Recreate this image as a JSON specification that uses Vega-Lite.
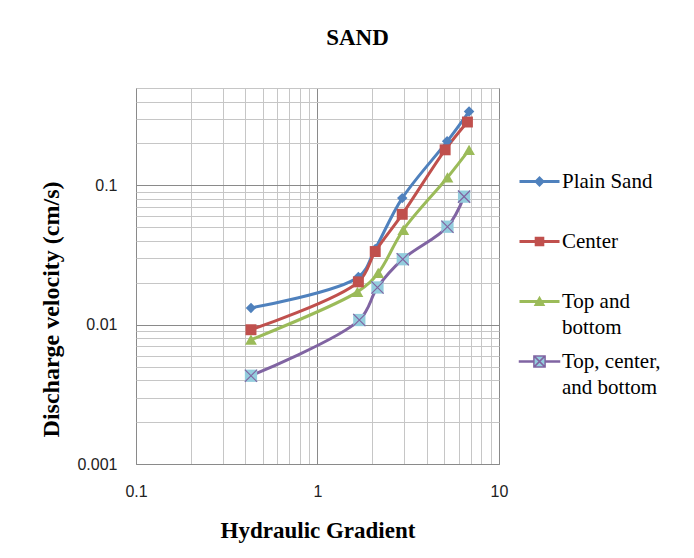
{
  "$schema": "https://vega.github.io/schema/vega-lite/v6.json",
  "width": 363,
  "height": 376,
  "autosize": {"type": "none"},
  "padding": {"left": 136, "top": 88, "right": 195, "bottom": 94},
  "background": "white",
  "title": {"text": "SAND", "font": "Liberation Serif", "fontSize": 23, "fontWeight": "bold", "color": "#000000", "anchor": "middle", "dx": 40, "baseline": "alphabetic", "offset": 12},
  "config": {
    "view": {"stroke": "#868686", "strokeWidth": 1},
    "legend": {"padding": 0, "labelFont": "Liberation Serif", "labelFontSize": 21, "labelColor": "#000000"},
    "style": {"guide-label": {"font": "Liberation Serif"}}
  },
  "data": {
    "values": [
      {"series": "Plain Sand", "gradient": 0.43, "velocity": 0.0132},
      {"series": "Plain Sand", "gradient": 1.68, "velocity": 0.022},
      {"series": "Plain Sand", "gradient": 2.08, "velocity": 0.035},
      {"series": "Plain Sand", "gradient": 2.93, "velocity": 0.081},
      {"series": "Plain Sand", "gradient": 5.18, "velocity": 0.207},
      {"series": "Plain Sand", "gradient": 6.84, "velocity": 0.339},
      {"series": "Center", "gradient": 0.43, "velocity": 0.0092},
      {"series": "Center", "gradient": 1.68, "velocity": 0.0203},
      {"series": "Center", "gradient": 2.08, "velocity": 0.0335},
      {"series": "Center", "gradient": 2.93, "velocity": 0.062},
      {"series": "Center", "gradient": 5.05, "velocity": 0.18},
      {"series": "Center", "gradient": 6.7, "velocity": 0.285},
      {"series": "Top and bottom", "gradient": 0.43, "velocity": 0.0078},
      {"series": "Top and bottom", "gradient": 1.66, "velocity": 0.0172},
      {"series": "Top and bottom", "gradient": 2.16, "velocity": 0.0235},
      {"series": "Top and bottom", "gradient": 2.97, "velocity": 0.048},
      {"series": "Top and bottom", "gradient": 5.2, "velocity": 0.114},
      {"series": "Top and bottom", "gradient": 6.84, "velocity": 0.18},
      {"series": "Top, center, and bottom", "gradient": 0.43, "velocity": 0.0043},
      {"series": "Top, center, and bottom", "gradient": 1.7, "velocity": 0.0108},
      {"series": "Top, center, and bottom", "gradient": 2.14, "velocity": 0.0185},
      {"series": "Top, center, and bottom", "gradient": 2.95, "velocity": 0.0295},
      {"series": "Top, center, and bottom", "gradient": 5.2, "velocity": 0.0505},
      {"series": "Top, center, and bottom", "gradient": 6.42, "velocity": 0.083}
    ]
  },
  "encoding": {
    "x": {
      "field": "gradient", "type": "quantitative",
      "scale": {"type": "log", "domain": [0.1, 10], "nice": false},
      "axis": {
        "title": "Hydraulic  Gradient",
        "values": [0.1, 0.2, 0.3, 0.4, 0.5, 0.6, 0.7, 0.8, 0.9, 1, 2, 3, 4, 5, 6, 7, 8, 9, 10],
        "format": "~g",
        "labelExpr": "(datum.value == 0.1 || datum.value == 1 || datum.value == 10) ? datum.label : ''",
        "grid": true,
        "gridColor": {"condition": {"test": "datum.value == 0.1 || datum.value == 1 || datum.value == 10", "value": "#8a8a8a"}, "value": "#c6c6c6"},
        "gridWidth": 1,
        "ticks": false,
        "domain": false,
        "labelFont": "Liberation Sans", "labelFontSize": 16, "labelColor": "#222222",
        "labelPadding": 19, "labelOverlap": false, "labelFlush": false,
        "titleFont": "Liberation Serif", "titleFontSize": 23, "titleFontWeight": "bold", "titleColor": "#000000",
        "titlePadding": 20
      }
    },
    "y": {
      "field": "velocity", "type": "quantitative",
      "scale": {"type": "log", "domain": [0.001, 0.5], "nice": false},
      "axis": {
        "title": "Discharge velocity (cm/s)",
        "values": [0.001, 0.002, 0.003, 0.004, 0.005, 0.006, 0.007, 0.008, 0.009, 0.01, 0.02, 0.03, 0.04, 0.05, 0.06, 0.07, 0.08, 0.09, 0.1, 0.2, 0.3, 0.4, 0.5],
        "format": "~g",
        "labelExpr": "(datum.value == 0.001 || datum.value == 0.01 || datum.value == 0.1) ? datum.label : ''",
        "grid": true,
        "gridColor": {"condition": {"test": "datum.value == 0.001 || datum.value == 0.01 || datum.value == 0.1", "value": "#8a8a8a"}, "value": "#c6c6c6"},
        "gridWidth": 1,
        "ticks": false,
        "domain": false,
        "labelFont": "Liberation Sans", "labelFontSize": 16, "labelColor": "#222222",
        "labelPadding": 19, "labelOverlap": false, "labelFlush": false,
        "titleFont": "Liberation Serif", "titleFontSize": 24, "titleFontWeight": "bold", "titleColor": "#000000",
        "titleX": -78, "titleY": 221, "titleBaseline": "alphabetic", "titleAngle": -90
      }
    }
  },
  "layer": [
    {
      "mark": {"type": "line", "strokeWidth": 3, "interpolate": "catmull-rom"},
      "encoding": {
        "color": {
          "field": "series", "type": "nominal",
          "scale": {"domain": ["Plain Sand", "Center", "Top and bottom", "Top, center, and bottom"], "range": ["#4F81BD", "#C0504D", "#9BBB59", "#8064A2"]},
          "legend": {
            "title": null,
            "orient": "none",
            "legendX": 393,
            "legendY": 83,
            "symbolSize": 64,
            "labelOffset": 12,
            "labelFont": "Liberation Serif",
            "labelFontSize": 21,
            "labelColor": "#000000",
            "labelBaseline": "top",
            "labelLimit": 200,
            "gridAlign": "all",
            "rowPadding": 12,
            "labelExpr": "datum.label == 'Top and bottom' ? ['Top and', 'bottom'] : datum.label == 'Top, center, and bottom' ? ['Top, center,', 'and bottom'] : datum.label",
            "encode": {
              "labels": {"update": {"dy": {"value": -11}, "lineHeight": {"value": 26}, "font": {"value": "Liberation Serif, Times New Roman, serif"}, "fontSize": {"value": 21}, "fill": {"value": "#000000"}}},
              "symbols": {
                "update": {
                  "shape": {"signal": "datum.value == 'Plain Sand' ? 'M-5,-0.375H5V0.375H-5Z M0,-1.35L1.35,0L0,1.35L-1.35,0Z' : datum.value == 'Center' ? 'M-5,-0.375H5V0.375H-5Z M-1.2,-1.2H1.2V1.2H-1.2Z' : datum.value == 'Top and bottom' ? 'M-5,-0.375H5V0.375H-5Z M0,-1.45L1.45,1.1H-1.45Z' : 'M-5,-0.1H-1.4V0.1H-5Z M1.4,-0.1H5V0.1H1.4Z M-1.4,-1.4H1.4V1.4H-1.4Z M-1.4,-1.4L1.4,1.4 M-1.4,1.4L1.4,-1.4'"},
                  "fill": {"signal": "datum.value == 'Plain Sand' ? '#4F81BD' : datum.value == 'Center' ? '#C0504D' : datum.value == 'Top and bottom' ? '#9BBB59' : '#93CDDD'"},
                  "stroke": {"signal": "datum.value == 'Top, center, and bottom' ? '#8064A2' : null"},
                  "strokeWidth": {"signal": "datum.value == 'Top, center, and bottom' ? 1.5 : 0"},
                  "fillOpacity": {"value": 1},
                  "opacity": {"value": 1}
                }
              }
            }
          }
        }
      }
    },
    {
      "transform": [{"filter": "datum.series == 'Plain Sand'"}],
      "mark": {"type": "point", "shape": "diamond", "filled": true, "opacity": 1, "strokeWidth": 0, "fill": "#4F81BD", "size": 110}
    },
    {
      "transform": [{"filter": "datum.series == 'Center'"}],
      "mark": {"type": "point", "shape": "square", "filled": true, "opacity": 1, "strokeWidth": 0, "fill": "#C0504D", "size": 120}
    },
    {
      "transform": [{"filter": "datum.series == 'Top and bottom'"}],
      "mark": {"type": "point", "shape": "triangle-up", "filled": true, "opacity": 1, "strokeWidth": 0, "fill": "#9BBB59", "size": 140}
    },
    {
      "transform": [{"filter": "datum.series == 'Top, center, and bottom'"}],
      "mark": {"type": "point", "shape": "square", "filled": true, "opacity": 1, "strokeWidth": 0, "fill": "#93CDDD", "size": 150}
    },
    {
      "transform": [{"filter": "datum.series == 'Top, center, and bottom'"}],
      "mark": {"type": "point", "shape": "M-1,-1L1,1M-1,1L1,-1", "filled": false, "stroke": "#8064A2", "strokeWidth": 1.2, "size": 150, "opacity": 1}
    }
  ]
}
